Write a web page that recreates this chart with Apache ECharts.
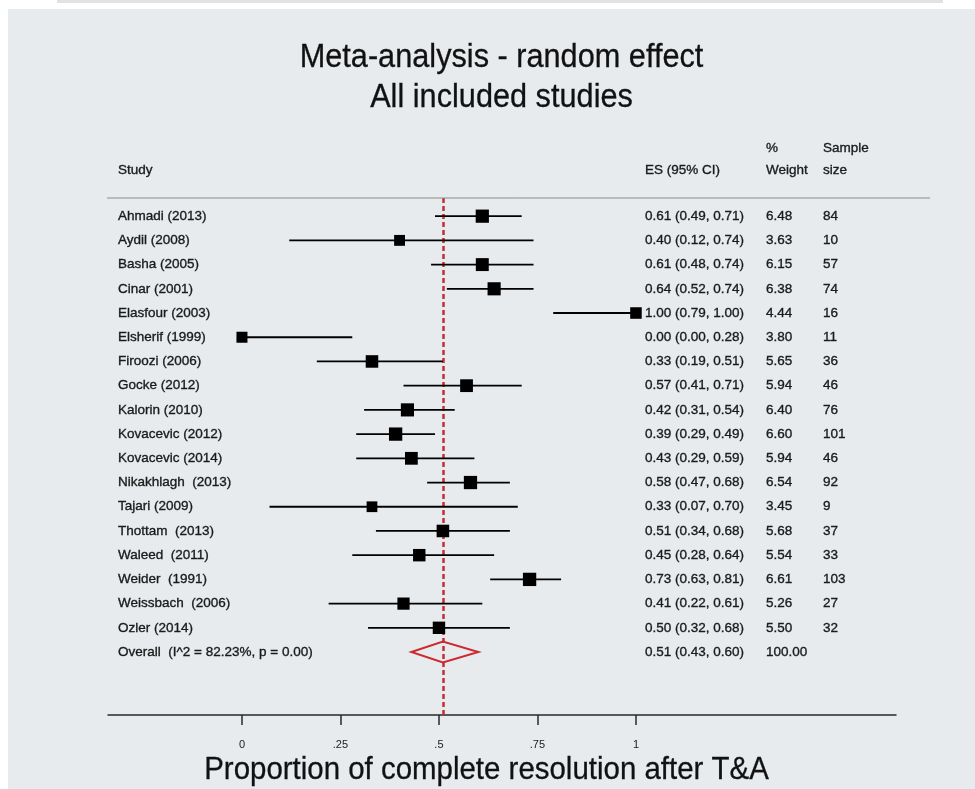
<!DOCTYPE html>
<html><head><meta charset="utf-8">
<script src="https://cdn.jsdelivr.net/npm/echarts@6/dist/echarts.min.js"></script>
<style>html,body{margin:0;padding:0;background:#fff}#c{width:975px;height:789px}</style>
</head><body><div id="c"></div>
<script>
const studies = ['Ahmadi (2013)','Aydil (2008)','Basha (2005)','Cinar (2001)','Elasfour (2003)','Elsherif (1999)','Firoozi (2006)','Gocke (2012)','Kalorin (2010)','Kovacevic (2012)','Kovacevic (2014)','Nikakhlagh  (2013)','Tajari (2009)','Thottam  (2013)','Waleed  (2011)','Weider  (1991)','Weissbach  (2006)','Ozler (2014)'];
const es     = [0.61,0.40,0.61,0.64,1.00,0.00,0.33,0.57,0.42,0.39,0.43,0.58,0.33,0.51,0.45,0.73,0.41,0.50];
const ciLow  = [0.49,0.12,0.48,0.52,0.79,0.00,0.19,0.41,0.31,0.29,0.29,0.47,0.07,0.34,0.28,0.63,0.22,0.32];
const ciHigh = [0.71,0.74,0.74,0.74,1.00,0.28,0.51,0.71,0.54,0.49,0.59,0.68,0.70,0.68,0.64,0.81,0.61,0.68];
const weights = [6.48,3.63,6.15,6.38,4.44,3.80,5.65,5.94,6.40,6.60,5.94,6.54,3.45,5.68,5.54,6.61,5.26,5.50];
const sampleSizes = [84,10,57,74,16,11,36,46,76,101,46,92,9,37,33,103,27,32];
const overallLabel = 'Overall  (I^2 = 82.23%, p = 0.00)';
const overallEs = 0.51, overallLow = 0.43, overallHigh = 0.60;
const overallWeight = '100.00';
const xTicks = [0, 0.25, 0.5, 0.75, 1];
const xTickLabels = ['0', '.25', '.5', '.75', '1'];
const titleLines = ['Meta-analysis - random effect', 'All included studies'];
const xAxisTitle = 'Proportion of complete resolution after T&A';

const TXT = '#1a1a1a';
const FONT = "'Liberation Sans', Arial, Helvetica, sans-serif";
const fmt = v => v.toFixed(2);

const ciData = studies.map((s, i) => [i, ciLow[i], ciHigh[i], es[i], weights[i]]);
const textData = studies.map((s, i) => [i, s, fmt(es[i]) + ' (' + fmt(ciLow[i]) + ', ' + fmt(ciHigh[i]) + ')', fmt(weights[i]), String(sampleSizes[i])]);
textData.push([studies.length, overallLabel, fmt(overallEs) + ' (' + fmt(overallLow) + ', ' + fmt(overallHigh) + ')', overallWeight, '']);

const chart = echarts.init(document.getElementById('c'), null, {renderer: 'canvas'});

function bigText(x, y, text, size, sx) {
  return {type: 'text', x: x, y: y, scaleX: sx, z: 10,
    style: {text: text, x: 0, y: 0, align: 'center', verticalAlign: 'middle', fill: '#111', font: size + "px " + FONT,
      stroke: '#111', lineWidth: 0.3}};
}
function smallStyle(t) {
  return {text: t, align: 'left', verticalAlign: 'middle', fill: TXT, font: "13.5px " + FONT, stroke: TXT, lineWidth: 0.35};
}
function smallText(x, y, text) {
  return {type: 'text', x: x, y: y, z: 10, style: smallStyle(text)};
}

const option = {
  backgroundColor: '#ffffff',
  animation: false,
  grid: {left: 108, right: 79, top: 198, bottom: 74},
  xAxis: {
    type: 'value', min: -0.34, max: 1.66,
    splitLine: {show: false},
    axisLine: {show: true, onZero: false, lineStyle: {color: '#2a2a2a', width: 1.5}},
    axisTick: {show: true, customValues: xTicks, length: 10, lineStyle: {color: '#2a2a2a', width: 1.5}},
    axisLabel: {show: true, customValues: xTicks, margin: 24, fontSize: 11, color: TXT, fontFamily: FONT,
      formatter: v => { const k = xTicks.findIndex(t => Math.abs(t - v) < 1e-9); return k >= 0 ? xTickLabels[k] : ''; }}
  },
  yAxis: {type: 'value', inverse: true, min: -0.75, max: 20.6, show: false},
  graphic: [
    {type: 'rect', z: -10, shape: {x: 57, y: 0, width: 886, height: 3}, style: {fill: '#e2e2e2'}},
    {type: 'rect', z: -10, shape: {x: 8, y: 9, width: 967, height: 780}, style: {fill: '#e7ebee'}},
    {type: 'line', z: 5, shape: {x1: 107, y1: 198, x2: 930, y2: 198}, style: {stroke: '#8a8a8a', lineWidth: 1}},
    bigText(501.5, 58, titleLines[0], 33, 0.93),
    bigText(501.5, 98, titleLines[1], 33, 0.93),
    bigText(486.5, 770, xAxisTitle, 32, 0.92),
    smallText(118, 170, 'Study'),
    smallText(645, 170, 'ES (95% CI)'),
    smallText(766, 148, '%'),
    smallText(766, 170, 'Weight'),
    smallText(823, 148, 'Sample'),
    smallText(823, 170, 'size')
  ],
  series: [
    {
      type: 'custom', name: 'ci', z: 5, clip: false,
      data: ciData,
      renderItem: (params, api) => {
        const row = api.value(0);
        const a = api.coord([api.value(1), row]);
        const b = api.coord([api.value(2), row]);
        const c = api.coord([api.value(3), row]);
        const sz = 7.9 + 0.82 * api.value(4);
        return {type: 'group', children: [
          {type: 'line', shape: {x1: a[0], y1: a[1], x2: b[0], y2: b[1]}, style: {stroke: '#000', lineWidth: 1.8}},
          {type: 'rect', shape: {x: c[0] - sz / 2, y: c[1] - sz / 2, width: sz, height: sz}, style: {fill: '#000'}}
        ]};
      }
    },
    {
      type: 'custom', name: 'overall', z: 4, clip: false,
      data: [[studies.length, overallLow, overallEs, overallHigh]],
      renderItem: (params, api) => {
        const row = api.value(0);
        const l = api.coord([api.value(1), row]);
        const m = api.coord([api.value(2), row]);
        const r = api.coord([api.value(3), row]);
        const h = 10.5;
        return {type: 'polygon', shape: {points: [[l[0], l[1]], [m[0], m[1] - h], [r[0], r[1]], [m[0], m[1] + h]]},
          style: {fill: 'none', stroke: '#cc2a30', lineWidth: 2}};
      },
      markLine: {
        silent: true, symbol: ['none', 'none'], label: {show: false}, z: 3,
        lineStyle: {color: '#c42c36', width: 2.5, type: [5, 3]},
        data: [{xAxis: overallEs}]
      }
    },
    {
      type: 'custom', name: 'text', z: 6, clip: false, silent: true,
      data: textData,
      renderItem: (params, api) => {
        const d = textData[params.dataIndex];
        const y = api.coord([0, d[0]])[1];
        const mk = (x, t) => ({type: 'text', x: x, y: y, style: smallStyle(t)});
        return {type: 'group', children: [mk(118, d[1]), mk(645, d[2]), mk(766, d[3]), mk(823, d[4])]};
      }
    }
  ]
};
chart.setOption(option);
</script>
</body></html>
